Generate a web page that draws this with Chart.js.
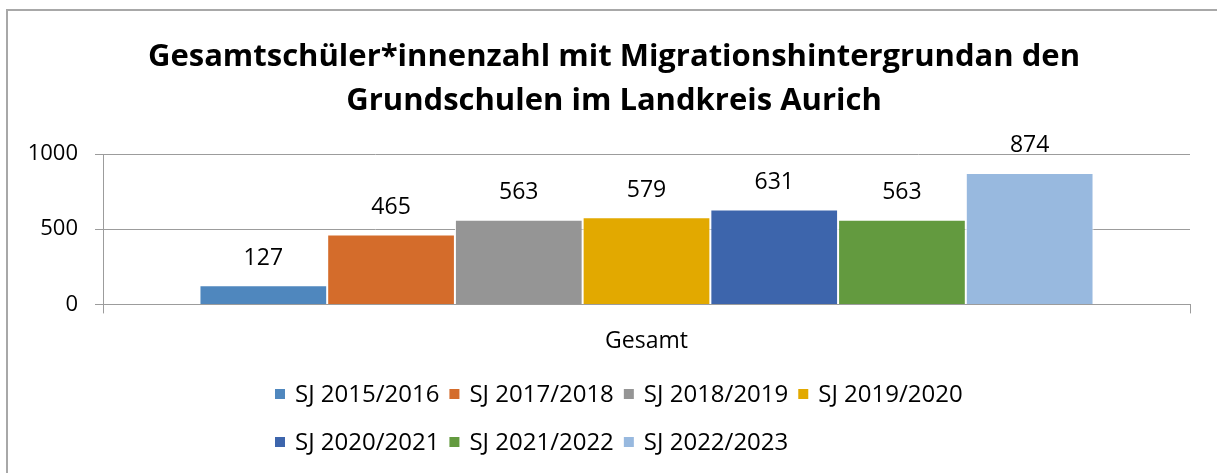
<!DOCTYPE html>
<html>
<head>
<meta charset="utf-8">
<script src="https://cdn.jsdelivr.net/npm/chart.js@4/dist/chart.umd.min.js"></script>
<style>
  html, body { margin: 0; padding: 0; background: #ffffff; }
  #wrap { width: 1217px; height: 473px; position: relative; }
</style>
</head>
<body>
<div id="wrap"><canvas id="c" width="1217" height="473"></canvas></div>
<script>
const titleLines = ['Gesamtschüler*innenzahl mit Migrationshintergrundan den', 'Grundschulen im Landkreis Aurich'];
const categories = ['Gesamt'];
const seriesLabels = ['SJ 2015/2016', 'SJ 2017/2018', 'SJ 2018/2019', 'SJ 2019/2020', 'SJ 2020/2021', 'SJ 2021/2022', 'SJ 2022/2023'];
const seriesValues = [127, 465, 563, 579, 631, 563, 874];
const seriesColors = ['#4F87BE', '#D46C2B', '#959595', '#E2A900', '#3D65AC', '#639A3F', '#98B9DF'];
const yTickValues = [0, 500, 1000];

const FONT = "'Open Sans', sans-serif";
const GRID = '#9c9c9c';

const datasets = seriesLabels.map((label, i) => ({
  label: label,
  data: [seriesValues[i]],
  backgroundColor: seriesColors[i],
  borderColor: '#ffffff',
  borderWidth: 1,
  borderSkipped: 'bottom',
  categoryPercentage: 0.8225,
  barPercentage: 1.0
}));

const framePlugin = {
  id: 'frame',
  beforeDraw(chart) {
    const ctx = chart.ctx;
    ctx.save();
    ctx.fillStyle = '#ffffff';
    ctx.fillRect(0, 0, chart.width, chart.height);
    ctx.strokeStyle = '#a8a8a8';
    ctx.lineWidth = 2;
    ctx.beginPath();
    ctx.moveTo(7, chart.height + 5);
    ctx.lineTo(7, 10);
    ctx.lineTo(chart.width + 5, 10);
    ctx.stroke();
    ctx.restore();
  }
};

const titlePlugin = {
  id: 'customTitle',
  afterDraw(chart) {
    const ctx = chart.ctx;
    ctx.save();
    ctx.font = 'bold 31px ' + FONT;
    ctx.fillStyle = '#000000';
    ctx.textAlign = 'center';
    ctx.textBaseline = 'middle';
    const cx = 614;
    titleLines.forEach((line, i) => ctx.fillText(line, cx, 57 + i * 44));
    ctx.restore();
  }
};

const valueLabelPlugin = {
  id: 'valueLabels',
  afterDatasetsDraw(chart) {
    const ctx = chart.ctx;
    ctx.save();
    ctx.font = '23px ' + FONT;
    ctx.fillStyle = '#000000';
    ctx.textAlign = 'center';
    ctx.textBaseline = 'middle';
    chart.data.datasets.forEach((ds, i) => {
      const meta = chart.getDatasetMeta(i);
      meta.data.forEach((el, j) => {
        ctx.fillText(String(ds.data[j]), el.x, el.y - 27);
      });
    });
    ctx.restore();
  }
};

const legendRows = [[0, 1, 2, 3], [4, 5, 6]];
const customLegendPlugin = {
  id: 'customLegend',
  afterDraw(chart) {
    const ctx = chart.ctx;
    ctx.save();
    ctx.font = '24px ' + FONT;
    ctx.textBaseline = 'middle';
    ctx.textAlign = 'left';
    const rowY = [chart.height - 79, chart.height - 31];
    legendRows.forEach((row, r) => {
      let x = 275;
      const y = rowY[r];
      row.forEach(i => {
        const ds = chart.data.datasets[i];
        ctx.fillStyle = ds.backgroundColor;
        ctx.fillRect(x, y - 5, 10, 10);
        ctx.fillStyle = '#000000';
        ctx.fillText(ds.label, x + 20, y + 1);
        x += 20 + ctx.measureText(ds.label).width + 10;
      });
    });
    ctx.restore();
  }
};

new Chart(document.getElementById('c'), {
  type: 'bar',
  data: { labels: categories, datasets: datasets },
  options: {
    responsive: false,
    animation: false,
    layout: { padding: { top: 154, left: 0, right: 27, bottom: 104 } },
    plugins: {
      legend: { display: false },
      tooltip: { enabled: false },
      title: { display: false }
    },
    scales: {
      x: {
        offset: true,
        grid: { offset: true, drawOnChartArea: false, drawTicks: true, tickLength: 9, color: GRID, lineWidth: 1 },
        border: { display: true, color: GRID, width: 1 },
        ticks: { color: '#000000', font: { family: FONT, size: 23 }, padding: 14 }
      },
      y: {
        min: 0,
        max: 1000,
        afterFit(scale) { scale.width = 103; },
        afterBuildTicks(scale) { scale.ticks = yTickValues.map(v => ({ value: v })); },
        grid: { color: GRID, lineWidth: 1, drawTicks: true, tickLength: 8 },
        border: { display: true, color: GRID, width: 1 },
        ticks: { color: '#000000', font: { family: FONT, size: 22 }, padding: 17, callback: (v) => String(v) }
      }
    }
  },
  plugins: [framePlugin, titlePlugin, valueLabelPlugin, customLegendPlugin]
});
</script>
</body>
</html>
